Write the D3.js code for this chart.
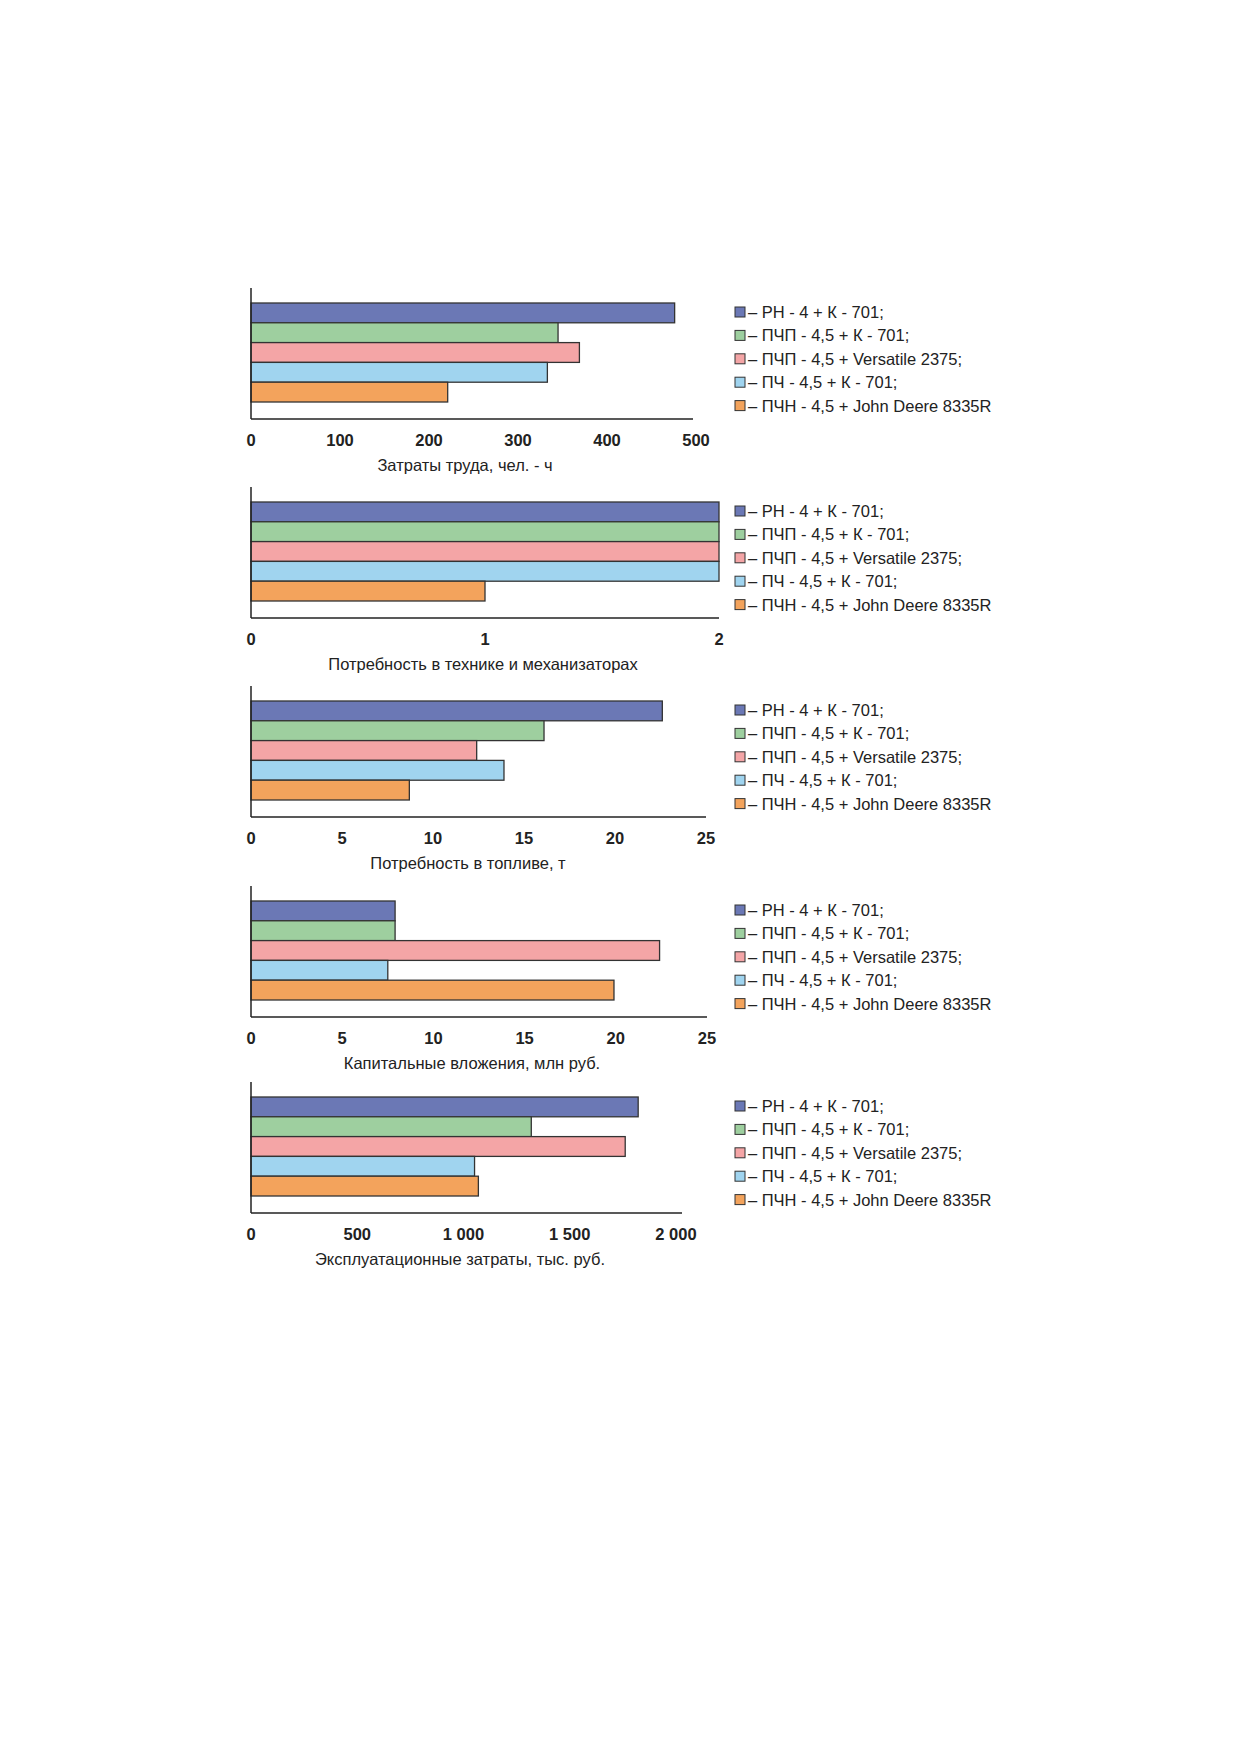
<!DOCTYPE html>
<html>
<head>
<meta charset="utf-8">
<script src="https://d3js.org/d3.v7.min.js"></script>
<style>
body { margin:0; background:#fff; }
text { font-family: "Liberation Sans", Arial, sans-serif; fill:#222; }
</style>
</head>
<body>
<script>
// series names and colours
var seriesNames = ["РН - 4 + К - 701;", "ПЧП - 4,5 + К - 701;", "ПЧП - 4,5 + Versatile 2375;", "ПЧ - 4,5 + К - 701;", "ПЧН - 4,5 + John Deere 8335R"];
var seriesColors = ["#6b78b5", "#9ecf9f", "#f4a5a6", "#a0d4ef", "#f3a35c"];

// one array of values per panel
var labourValues = [476, 345, 369, 333, 221];
var machineValues = [2, 2, 2, 2, 1];
var fuelValues = [22.6, 16.1, 12.4, 13.9, 8.7];
var capitalValues = [7.9, 7.9, 22.4, 7.5, 19.9];
var operValues = [1822, 1319, 1761, 1052, 1070];

var labourTicks = [0, 100, 200, 300, 400, 500];
var machineTicks = [0, 1, 2];
var fuelTicks = [0, 5, 10, 15, 20, 25];
var capitalTicks = [0, 5, 10, 15, 20, 25];
var operTicks = [0, 500, 1000, 1500, 2000];

var titles = ["Затраты труда, чел. - ч", "Потребность в технике и механизаторах", "Потребность в топливе, т",
  "Капитальные вложения, млн руб.", "Эксплуатационные затраты, тыс. руб."];

var width = 1239, height = 1754;
var svg = d3.select("body").append("svg").attr("width", width).attr("height", height);

var fmt = d => d3.format(",")(d).replace(/,/g, "\u00a0");

// top = y of first bar top; xMax = pixel of max tick
var panels = [
  {vals: labourValues, ticks: labourTicks, top: 303, xMax: 696, axisEnd: 693, titleX: 465},
  {vals: machineValues, ticks: machineTicks, top: 502, xMax: 719, axisEnd: 719, titleX: 483},
  {vals: fuelValues, ticks: fuelTicks, top: 701, xMax: 706, axisEnd: 706, titleX: 468},
  {vals: capitalValues, ticks: capitalTicks, top: 901, xMax: 707, axisEnd: 707, titleX: 472},
  {vals: operValues, ticks: operTicks, top: 1097, xMax: 676, axisEnd: 682, titleX: 460}
];

var x0 = 251, barH = 19.8;

panels.forEach(function(p, pi) {
  var g = svg.append("g");
  var x = d3.scaleLinear().domain([0, d3.max(p.ticks)]).range([x0, p.xMax]);
  var y = d3.scaleBand().domain(d3.range(5)).range([p.top, p.top + barH * 5]).padding(0);
  var base = p.top + barH * 5 + 17;

  g.selectAll("rect.bar").data(p.vals).join("rect")
    .attr("x", x0).attr("y", (d, i) => y(i))
    .attr("width", d => x(d) - x0).attr("height", y.bandwidth())
    .attr("fill", (d, i) => seriesColors[i])
    .attr("stroke", "#333").attr("stroke-width", 1.3);

  // axes lines
  g.append("line").attr("x1", x0).attr("x2", x0).attr("y1", p.top - 15).attr("y2", base).attr("stroke", "#222").attr("stroke-width", 1.5);
  g.append("line").attr("x1", x0).attr("x2", p.axisEnd).attr("y1", base).attr("y2", base).attr("stroke", "#222").attr("stroke-width", 1.5);

  g.selectAll("text.tick").data(p.ticks).join("text")
    .attr("x", d => x(d)).attr("y", base + 27)
    .attr("text-anchor", "middle").attr("font-size", 16.5).attr("font-weight", "bold")
    .text(fmt);

  g.append("text").attr("x", p.titleX).attr("y", base + 52)
    .attr("text-anchor", "middle").attr("font-size", 16.5).text(titles[pi]);

  // legend
  var lg = g.selectAll("g.leg").data(seriesNames).join("g")
    .attr("transform", (d, i) => "translate(735," + (p.top + 9 + i * 23.4) + ")");
  lg.append("rect").attr("x", 0).attr("y", -5).attr("width", 10).attr("height", 10)
    .attr("fill", (d, i) => seriesColors[i]).attr("stroke", "#333").attr("stroke-width", 1);
  lg.append("text").attr("x", 13).attr("y", 6).attr("font-size", 16.5).text(d => "\u2013 " + d);
});
</script>
</body>
</html>
